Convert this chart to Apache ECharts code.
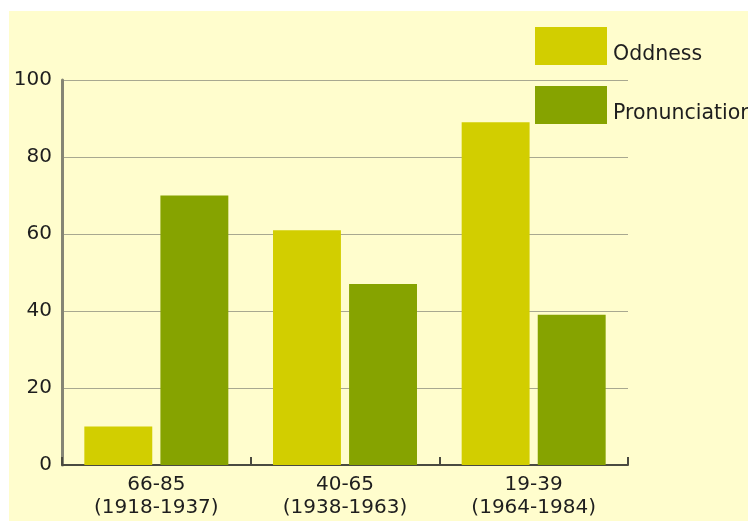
<!DOCTYPE html>
<html>
<head>
<meta charset="utf-8">
<script src="https://cdn.jsdelivr.net/npm/echarts@6/dist/echarts.min.js"></script>
<style>
  html, body { margin: 0; padding: 0; background: #ffffff; }
  #chart { width: 748px; height: 521px; }
</style>
</head>
<body>
<div id="chart"></div>
<script>
// Age groups (birth years) on the x axis
const categories = ['66-85\n(1918-1937)', '40-65\n(1938-1963)', '19-39\n(1964-1984)'];
const oddness = [10, 61, 89];
const pronunciation = [70, 47, 39];
const yTicks = { min: 0, max: 100, interval: 20 };

const font = 'DejaVu Sans, Verdana, sans-serif';
const textColor = '#1e1e1e';

const chart = echarts.init(document.getElementById('chart'));
chart.setOption({
  animation: false,
  backgroundColor: 'transparent',
  graphic: [{
    type: 'rect',
    left: 9, top: 11, z: -10, silent: true,
    shape: { width: 739, height: 510 },
    style: { fill: '#FFFDCD' }
  }],
  grid: { left: 62, right: 120, top: 80, bottom: 56, containLabel: false },
  legend: {
    orient: 'vertical',
    left: 535, top: 27, padding: 0,
    itemWidth: 72, itemHeight: 38, itemGap: 21,
    icon: 'rect',
    formatter: '{t|{name}}',
    textStyle: {
      fontFamily: font, fontSize: 20.5, color: textColor,
      rich: { t: { fontFamily: font, fontSize: 20.5, color: textColor, padding: [17, 0, 0, 1] } }
    },
    data: ['Oddness', 'Pronunciation']
  },
  xAxis: {
    type: 'category',
    data: categories,
    axisLine: { lineStyle: { color: '#4a4a40', width: 2 } },
    axisTick: { show: true, inside: true, length: 8, lineStyle: { color: '#4a4a40', width: 2 } },
    axisLabel: { fontFamily: font, fontSize: 20, color: textColor, lineHeight: 23, margin: 8 }
  },
  yAxis: {
    type: 'value',
    min: yTicks.min, max: yTicks.max, interval: yTicks.interval,
    axisLine: { show: true, lineStyle: { color: '#858575', width: 3 } },
    axisTick: { show: false },
    splitLine: { lineStyle: { color: '#a8a890', width: 1 } },
    axisLabel: { fontFamily: font, fontSize: 20, color: textColor, margin: 10 }
  },
  series: [
    {
      name: 'Oddness', type: 'bar', data: oddness,
      barWidth: '36%', barGap: '12%',
      itemStyle: { color: '#D2CE00' }
    },
    {
      name: 'Pronunciation', type: 'bar', data: pronunciation,
      barWidth: '36%', barGap: '12%',
      itemStyle: { color: '#86A300' }
    }
  ]
});
</script>
</body>
</html>
